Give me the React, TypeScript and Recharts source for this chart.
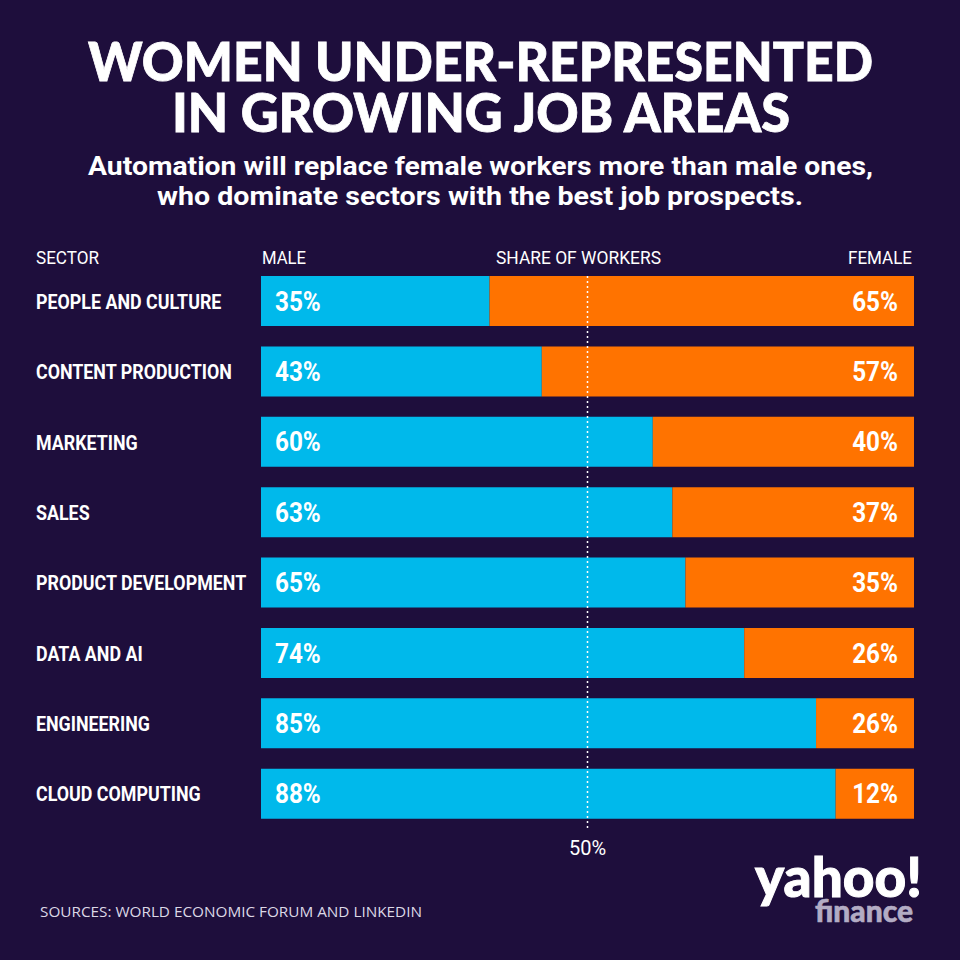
import React from "react";
import { BarChart, Bar, XAxis, YAxis, LabelList, ReferenceLine } from "recharts";

const sectors = [
  "PEOPLE AND CULTURE",
  "CONTENT PRODUCTION",
  "MARKETING",
  "SALES",
  "PRODUCT DEVELOPMENT",
  "DATA AND AI",
  "ENGINEERING",
  "CLOUD COMPUTING",
];
const maleShare = [35, 43, 60, 63, 65, 74, 85, 88];
const femaleShare = [65, 57, 40, 37, 35, 26, 15, 12];
const femaleLabels = [65, 57, 40, 37, 35, 26, 26, 12];

const data = sectors.map((s, i) => ({
  sector: s,
  male: maleShare[i],
  female: femaleShare[i],
  femaleLabel: femaleLabels[i],
}));

const BG = "#1e0e3c";
const CYAN = "#00b9eb";
const ORANGE = "#ff7300";
const SANS = "Roboto, 'Noto Sans', sans-serif";
const HEAVY = "Lato, Inter, 'Open Sans', sans-serif";

const SectorTick = (props: any) => {
  const { y, payload } = props;
  return (
    <text
      transform={`translate(36,${y}) scale(0.85,1)`}
      x={0}
      y={0}
      dy="0.36em"
      fill="#ffffff"
      fontSize={21}
      fontWeight={700}
      fontFamily={SANS}
    >
      {payload.value}
    </text>
  );
};

const MaleLabel = (props: any) => {
  const { x, y, height, value } = props;
  const tx = Number(x) + 14;
  const ty = Number(y) + Number(height) / 2;
  return (
    <text
      transform={`translate(${tx},${ty}) scale(0.9,1)`}
      x={0}
      y={0}
      dy="0.36em"
      fill="#ffffff"
      fontSize={27}
      fontWeight={700}
      fontFamily={SANS}
    >
      {`${value}%`}
    </text>
  );
};

const FemaleLabel = (props: any) => {
  const { x, y, width, height, value } = props;
  const tx = Number(x) + Number(width) - 16;
  const ty = Number(y) + Number(height) / 2;
  return (
    <text
      transform={`translate(${tx},${ty}) scale(0.9,1)`}
      x={0}
      y={0}
      dy="0.36em"
      textAnchor="end"
      fill="#ffffff"
      fontSize={27}
      fontWeight={700}
      fontFamily={SANS}
    >
      {`${value}%`}
    </text>
  );
};

const DottedLine = (props: any) => {
  const x = props.x1 ?? props.x;
  const top = Math.min(props.y1, props.y2) + 10;
  const bottom = Math.max(props.y1, props.y2) + 1;
  return (
    <line x1={x} x2={x} y1={top} y2={bottom} stroke="#ffffff" strokeWidth={1.5} strokeDasharray="2 3" />
  );
};

export default function App() {
  return (
    <div style={{ position: "absolute", left: 0, top: 0, width: 960, height: 960, background: BG }}>
      <BarChart
        width={960}
        height={960}
        data={data}
        layout="vertical"
        margin={{ top: 266, right: 46, bottom: 131, left: 36 }}
        barSize={50}
      >
        <XAxis type="number" domain={[0, 100]} hide />
        <YAxis
          type="category"
          dataKey="sector"
          width={225}
          axisLine={false}
          tickLine={false}
          tick={<SectorTick />}
        />
        <Bar dataKey="male" stackId="a" fill={CYAN} isAnimationActive={false}>
          <LabelList dataKey="male" content={<MaleLabel />} />
        </Bar>
        <Bar dataKey="female" stackId="a" fill={ORANGE} isAnimationActive={false}>
          <LabelList dataKey="femaleLabel" content={<FemaleLabel />} />
        </Bar>
        <ReferenceLine
          x={50}
          shape={<DottedLine />}
          label={{
            value: "50%",
            position: "bottom",
            offset: 12,
            fill: "#ffffff",
            fontSize: 20,
            fontFamily: SANS,
          }}
        />
      </BarChart>
      <svg
        width={960}
        height={960}
        style={{ position: "absolute", left: 0, top: 0, pointerEvents: "none" }}
      >
        <g fill="#ffffff" fontFamily={HEAVY} fontWeight={900} fontSize={53} stroke="#ffffff" strokeWidth={0.8}>
          <text x={88} y={81} textLength={785} lengthAdjust="spacingAndGlyphs">WOMEN UNDER-REPRESENTED</text>
          <text x={172} y={132} textLength={618} lengthAdjust="spacingAndGlyphs">IN GROWING JOB AREAS</text>
        </g>
        <g fill="#ffffff" fontFamily={SANS} fontWeight={700} fontSize={25}>
          <text x={88} y={175} textLength={785} lengthAdjust="spacingAndGlyphs">
            Automation will replace female workers more than male ones,
          </text>
          <text x={157} y={205} textLength={646} lengthAdjust="spacingAndGlyphs">
            who dominate sectors with the best job prospects.
          </text>
        </g>
        <g fill="#ffffff" fontFamily={SANS} fontSize={19}>
          <text x={36} y={264} textLength={63} lengthAdjust="spacingAndGlyphs">SECTOR</text>
          <text x={262} y={264} textLength={44} lengthAdjust="spacingAndGlyphs">MALE</text>
          <text x={496} y={264} textLength={165} lengthAdjust="spacingAndGlyphs">SHARE OF WORKERS</text>
          <text x={848} y={264} textLength={64} lengthAdjust="spacingAndGlyphs">FEMALE</text>
        </g>
        <text
          x={40}
          y={917}
          fill="#dcd8e6"
          fontFamily="'Open Sans', sans-serif"
          fontSize={15}
          textLength={382}
          lengthAdjust="spacingAndGlyphs"
        >
          SOURCES: WORLD ECONOMIC FORUM AND LINKEDIN
        </text>
        <text
          x={755}
          y={897}
          fill="#ffffff"
          fontFamily={HEAVY}
          fontWeight={900}
          fontSize={56}
          stroke="#ffffff"
          strokeWidth={1}
          textLength={167}
          lengthAdjust="spacingAndGlyphs"
        >
          yahoo!
        </text>
        <text
          x={815}
          y={922}
          fill="#b3acc4"
          fontFamily={HEAVY}
          fontWeight={900}
          fontSize={30}
          stroke="#b3acc4"
          strokeWidth={0.6}
          textLength={98}
          lengthAdjust="spacingAndGlyphs"
        >
          finance
        </text>
      </svg>
    </div>
  );
}
